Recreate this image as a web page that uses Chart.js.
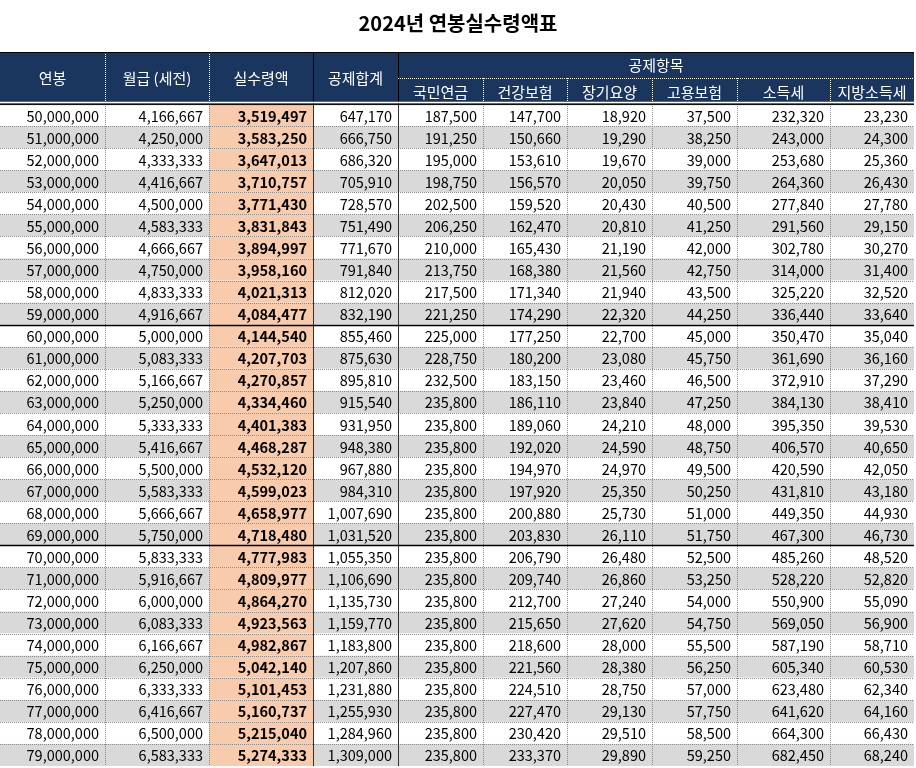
<!DOCTYPE html>
<html><head><meta charset="utf-8">
<script src="https://cdn.jsdelivr.net/npm/chart.js@4"></script>
<style>html,body{margin:0;padding:0;background:#fff;overflow:hidden}#w{width:916px;height:768px}</style>
</head><body><div id="w"><canvas id="c"></canvas></div>
<script>
const title = "2024년 연봉실수령액표";
const headers = ["연봉","월급 (세전)","실수령액","공제합계","국민연금","건강보험","장기요양","고용보험","소득세","지방소득세"];
const groupHeader = "공제항목";
const salary = [50000000,51000000,52000000,53000000,54000000,55000000,56000000,57000000,58000000,59000000,60000000,61000000,62000000,63000000,64000000,65000000,66000000,67000000,68000000,69000000,70000000,71000000,72000000,73000000,74000000,75000000,76000000,77000000,78000000,79000000];
const monthly = [4166667,4250000,4333333,4416667,4500000,4583333,4666667,4750000,4833333,4916667,5000000,5083333,5166667,5250000,5333333,5416667,5500000,5583333,5666667,5750000,5833333,5916667,6000000,6083333,6166667,6250000,6333333,6416667,6500000,6583333];
const netPay = [3519497,3583250,3647013,3710757,3771430,3831843,3894997,3958160,4021313,4084477,4144540,4207703,4270857,4334460,4401383,4468287,4532120,4599023,4658977,4718480,4777983,4809977,4864270,4923563,4982867,5042140,5101453,5160737,5215040,5274333];
const deductTotal = [647170,666750,686320,705910,728570,751490,771670,791840,812020,832190,855460,875630,895810,915540,931950,948380,967880,984310,1007690,1031520,1055350,1106690,1135730,1159770,1183800,1207860,1231880,1255930,1284960,1309000];
const pension = [187500,191250,195000,198750,202500,206250,210000,213750,217500,221250,225000,228750,232500,235800,235800,235800,235800,235800,235800,235800,235800,235800,235800,235800,235800,235800,235800,235800,235800,235800];
const health = [147700,150660,153610,156570,159520,162470,165430,168380,171340,174290,177250,180200,183150,186110,189060,192020,194970,197920,200880,203830,206790,209740,212700,215650,218600,221560,224510,227470,230420,233370];
const longTermCare = [18920,19290,19670,20050,20430,20810,21190,21560,21940,22320,22700,23080,23460,23840,24210,24590,24970,25350,25730,26110,26480,26860,27240,27620,28000,28380,28750,29130,29510,29890];
const employment = [37500,38250,39000,39750,40500,41250,42000,42750,43500,44250,45000,45750,46500,47250,48000,48750,49500,50250,51000,51750,52500,53250,54000,54750,55500,56250,57000,57750,58500,59250];
const incomeTax = [232320,243000,253680,264360,277840,291560,302780,314000,325220,336440,350470,361690,372910,384130,395350,406570,420590,431810,449350,467300,485260,528220,550900,569050,587190,605340,623480,641620,664300,682450];
const localTax = [23230,24300,25360,26430,27780,29150,30270,31400,32520,33640,35040,36160,37290,38410,39530,40650,42050,43180,44930,46730,48520,52820,55090,56900,58710,60530,62340,64160,66430,68240];

const columns = [salary,monthly,netPay,deductTotal,pension,health,longTermCare,employment,incomeTax,localTax];
const colEdges = [0,105,209,313,398,483,567,652,737,830,914];
const nRows = salary.length;
const HDR = 2.36;
const fmt = v => v.toLocaleString('en-US');
const FONT = '"Noto Sans CJK KR", "Noto Sans", sans-serif';

const tablePlugin = {
  id:'table',
  afterDraw(chart){
    const ctx = chart.ctx, xs = chart.scales.x, ys = chart.scales.y;
    const X = v => xs.getPixelForValue(v), Y = v => ys.getPixelForValue(v);
    ctx.save();
    ctx.fillStyle='#000'; ctx.font='bold 20px '+FONT; ctx.textAlign='center'; ctx.textBaseline='middle';
    ctx.fillText(title, 458, 23);
    const x0=X(colEdges[0]), x1=X(colEdges[colEdges.length-1]);
    ctx.fillStyle='#1b365e'; ctx.fillRect(x0, Y(-HDR), x1-x0, Y(0)-Y(-HDR));
    for(let r=0;r<nRows;r++){
      const ya=Y(r), yb=Y(r+1);
      ctx.fillStyle = r%2 ? '#d9d9d9' : '#ffffff';
      ctx.fillRect(x0, ya, x1-x0, yb-ya);
      ctx.fillStyle='#f8cbad';
      ctx.fillRect(X(colEdges[2]), ya, X(colEdges[3])-X(colEdges[2]), yb-ya);
    }
    ctx.setLineDash([1,1]); ctx.strokeStyle='#8a8a8a'; ctx.lineWidth=1;
    for(let r=1;r<nRows;r++){
      if(r%10===0) continue;
      const y=Math.round(Y(r))+0.5; ctx.beginPath(); ctx.moveTo(x0,y); ctx.lineTo(x1,y); ctx.stroke();
    }
    for(let c=1;c<colEdges.length-1;c++){
      const x=Math.round(X(colEdges[c]))+0.5;
      if(c===3||c===4){ ctx.setLineDash([]); ctx.strokeStyle='#333'; }
      else { ctx.setLineDash([1,1]); ctx.strokeStyle='#8a8a8a'; }
      ctx.beginPath(); ctx.moveTo(x,Y(0)); ctx.lineTo(x,Y(nRows)); ctx.stroke();
    }
    for(let c=1;c<colEdges.length-1;c++){
      const x=Math.round(X(colEdges[c]))+0.5;
      const top = c>=5 ? Y(-HDR/2) : Y(-HDR);
      if(c===3||c===4){ ctx.setLineDash([]); ctx.strokeStyle='#000'; } else { ctx.setLineDash([1,1]); ctx.strokeStyle='#fff'; }
      ctx.beginPath(); ctx.moveTo(x,top); ctx.lineTo(x,Y(0)); ctx.stroke();
    }
    ctx.setLineDash([1,1]); ctx.strokeStyle='#fff';
    let ym=Math.round(Y(-HDR/2))+0.5;
    ctx.beginPath(); ctx.moveTo(X(colEdges[4]),ym); ctx.lineTo(x1,ym); ctx.stroke();
    ctx.setLineDash([]); ctx.strokeStyle='#000'; ctx.lineWidth=1.5;
    [10,20].forEach(r=>{const y=Math.round(Y(r))+0.5; ctx.beginPath(); ctx.moveTo(x0,y); ctx.lineTo(x1,y); ctx.stroke();});
    ctx.strokeStyle='#fff'; ctx.lineWidth=1.5;
    ctx.beginPath(); ctx.moveTo(x0,Y(0)-1.5); ctx.lineTo(x1,Y(0)-1.5); ctx.stroke();
    ctx.strokeStyle='#000'; ctx.lineWidth=1;
    ctx.beginPath(); ctx.moveTo(x0,Y(0)+0.5); ctx.lineTo(x1,Y(0)+0.5); ctx.stroke();
    ctx.beginPath(); ctx.moveTo(x0,Y(-HDR)+0.5); ctx.lineTo(x1,Y(-HDR)+0.5); ctx.stroke();
    ctx.fillStyle='#fff'; ctx.font='15px '+FONT; ctx.textAlign='center'; ctx.textBaseline='middle';
    for(let c=0;c<4;c++) ctx.fillText(headers[c], (X(colEdges[c])+X(colEdges[c+1]))/2, (Y(-HDR)+Y(0))/2);
    ctx.fillText(groupHeader, (X(colEdges[4])+x1)/2, (Y(-HDR)+Y(-HDR/2))/2);
    for(let c=4;c<headers.length;c++) ctx.fillText(headers[c], (X(colEdges[c])+X(colEdges[c+1]))/2, (Y(-HDR/2)+Y(0))/2+1);
    ctx.textAlign='right';
    for(let c=0;c<columns.length;c++){
      ctx.font=(c===2?'bold ':'')+'14.5px '+FONT;
      ctx.fillStyle='#000';
      const xr=X(colEdges[c+1])-6;
      for(let r=0;r<nRows;r++) ctx.fillText(fmt(columns[c][r]), xr, (Y(r)+Y(r+1))/2+1);
    }
    ctx.restore();
  }
};

new Chart(document.getElementById('c'), {
  type:'bar',
  data:{labels:[], datasets:[{data:[]}]},
  options:{
    responsive:true, maintainAspectRatio:false, animation:false,
    layout:{padding:{top:52,bottom:2,left:0,right:0}},
    plugins:{legend:{display:false},tooltip:{enabled:false}},
    scales:{
      x:{type:'linear',min:0,max:916,display:false,offset:false},
      y:{type:'linear',min:-HDR,max:nRows,reverse:true,display:false,offset:false}
    }
  },
  plugins:[tablePlugin]
});
</script></body></html>
